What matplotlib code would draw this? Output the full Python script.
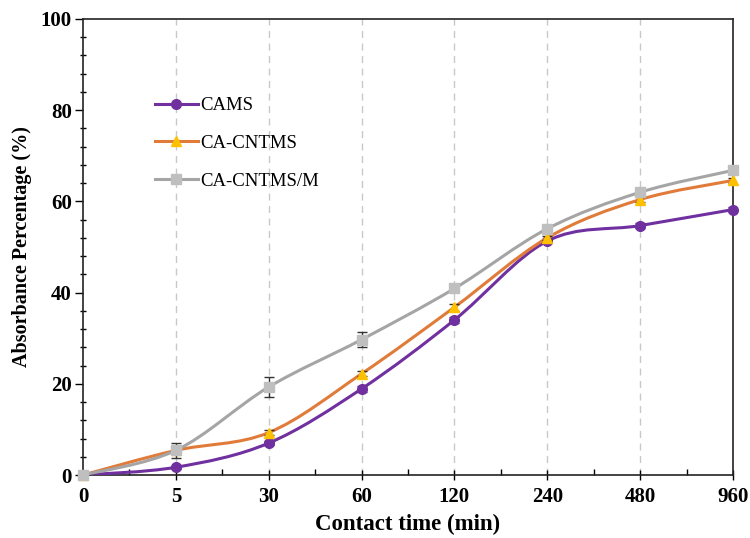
import numpy as np
import matplotlib
matplotlib.use("Agg")
import matplotlib.pyplot as plt
from matplotlib.path import Path
from matplotlib.patches import PathPatch
from matplotlib.lines import Line2D
from matplotlib.ticker import MultipleLocator

plt.rcParams['font.family'] = ['Liberation Serif', 'DejaVu Serif']

# data
time_labels = ['0', '5', '30', '60', '120', '240', '480', '960']
cams = [0.0, 1.7, 7.0, 18.9, 34.0, 51.3, 54.7, 58.2]
cams_err = [0.0, 0.3, 0.4, 0.6, 0.6, 0.5, 0.5, 0.5]
cntms = [0.0, 5.4, 9.3, 22.2, 36.8, 52.0, 60.4, 64.6]
cntms_err = [0.0, 0.8, 0.6, 0.5, 0.8, 0.5, 0.5, 0.5]
cntms_m = [0.0, 5.4, 19.3, 29.7, 40.9, 54.0, 62.0, 66.8]
cntms_m_err = [0.0, 1.6, 2.2, 1.6, 0.5, 0.5, 0.5, 0.5]


def smooth_path(xs, ys):
    # excel-like smoothed line: catmull-rom segments as cubic bezier
    pts = np.column_stack([xs, ys]).astype(float)
    ext = np.vstack([pts[0], pts, pts[-1]])
    verts = [pts[0]]
    codes = [Path.MOVETO]
    for i in range(1, len(ext) - 2):
        p0, p1, p2, p3 = ext[i - 1], ext[i], ext[i + 1], ext[i + 2]
        c1 = p1 + (p2 - p0) / 6.0
        c2 = p2 - (p3 - p1) / 6.0
        verts += [c1, c2, p2]
        codes += [Path.CURVE4] * 3
    return Path(verts, codes)


fig = plt.figure(figsize=(7.5, 5.38), dpi=100)
ax = fig.add_axes([0.1107, 0.1171, 0.8666, 0.8476])

x = np.arange(len(time_labels))
series = [
    ('CAMS', cams, cams_err, '#7030A0', '#7030A0', 'o', 7),
    ('CA-CNTMS', cntms, cntms_err, '#E07B39', '#FFC000', '^', 7),
    ('CA-CNTMS/M', cntms_m, cntms_m_err, '#A5A5A5', '#BFBFBF', 's', 6.5),
]

handles = []
for i, (name, ys, err, lc, mc, mk, ms) in enumerate(series):
    ax.add_patch(PathPatch(smooth_path(x, ys), facecolor='none', edgecolor=lc,
                           lw=2.2, zorder=3 + i, capstyle='round'))
    ax.errorbar(x, ys, yerr=err, fmt='none', ecolor='#333333', elinewidth=1.0,
                capsize=3.5, capthick=1.0, zorder=3 + i)
    ax.plot(x, ys, linestyle='none', marker=mk, ms=ms, color=mc,
            markeredgecolor=mc, zorder=3.5 + i, clip_on=False)
    handles.append(Line2D([], [], color=lc, lw=2.2, marker=mk, ms=ms,
                          markerfacecolor=mc, markeredgecolor=mc))

ax.set_xlim(0, 7)
ax.set_ylim(0, 100)
ax.set_xticks(x)
ax.set_xticklabels(time_labels)
ax.xaxis.set_minor_locator(MultipleLocator(0.5))
ax.yaxis.set_major_locator(MultipleLocator(20))
ax.yaxis.set_minor_locator(MultipleLocator(4))

for xv in x[1:-1]:
    ax.axvline(xv, color='#C8C8C8', lw=1.0, ls=(0, (5, 4)), zorder=1)

for s in ax.spines.values():
    s.set_linewidth(1.2)
    s.set_color('#222222')

ax.tick_params(axis='x', which='major', direction='inout', length=7, width=1.0,
               labelsize=15, pad=5)
ax.tick_params(axis='x', which='minor', direction='in', length=4, width=1.0)
ax.tick_params(axis='y', which='major', direction='out', length=6, width=1.0,
               labelsize=15, pad=2)
ax.tick_params(axis='y', which='minor', direction='inout', length=4, width=1.0)
for lab in ax.get_xticklabels() + ax.get_yticklabels():
    lab.set_fontweight('bold')

ax.set_xlabel('Contact time (min)', fontsize=16.5, fontweight='bold', labelpad=5)
ax.set_ylabel('Absorbance Percentage (%)', fontsize=14.5, fontweight='bold', labelpad=6)

ax.legend(handles, [s[0] for s in series], loc='upper left',
          bbox_to_anchor=(0.099, 0.845), frameon=False, fontsize=13.5,
          handlelength=2.3, handletextpad=0.1, labelspacing=1.1,
          borderaxespad=0)

fig.savefig('out.png', dpi=100)
